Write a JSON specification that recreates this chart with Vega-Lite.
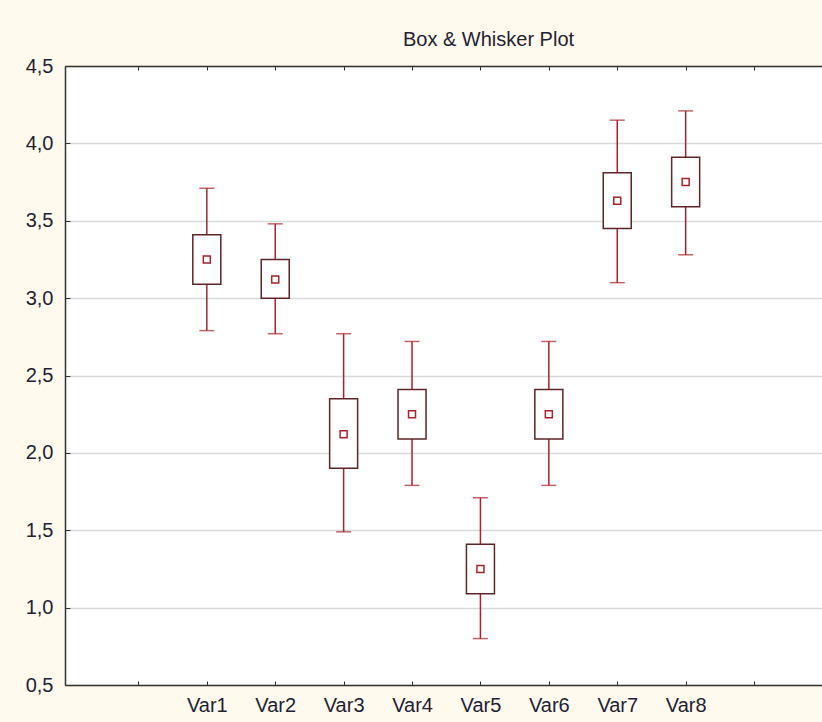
{
  "$schema": "https://vega.github.io/schema/vega-lite/v6.json",
  "width": 757,
  "height": 619,
  "autosize": {"type": "none"},
  "padding": {"left": 65, "top": 66, "right": 0, "bottom": 37},
  "background": "#FFF9EE",
  "title": {
    "text": "Box & Whisker Plot",
    "anchor": "middle",
    "frame": "group",
    "dx": 45,
    "offset": 6,
    "font": "Liberation Sans",
    "fontSize": 20,
    "fontWeight": "normal",
    "color": "#222233"
  },
  "config": {
    "view": {"fill": "white", "stroke": null},
    "axis": {
      "labelFont": "Liberation Sans",
      "labelFontSize": 20,
      "labelColor": "#222233",
      "domainColor": "#333333",
      "domainWidth": 1.5,
      "tickColor": "#333333",
      "tickWidth": 1,
      "title": null
    }
  },
  "data": {
    "values": [
      {"var": "Var1", "pos": 2, "low": 2.79, "q1": 3.09, "mean": 3.25, "q3": 3.41, "high": 3.71},
      {"var": "Var2", "pos": 3, "low": 2.77, "q1": 3.00, "mean": 3.12, "q3": 3.25, "high": 3.48},
      {"var": "Var3", "pos": 4, "low": 1.49, "q1": 1.90, "mean": 2.12, "q3": 2.35, "high": 2.77},
      {"var": "Var4", "pos": 5, "low": 1.79, "q1": 2.09, "mean": 2.25, "q3": 2.41, "high": 2.72},
      {"var": "Var5", "pos": 6, "low": 0.80, "q1": 1.09, "mean": 1.25, "q3": 1.41, "high": 1.71},
      {"var": "Var6", "pos": 7, "low": 1.79, "q1": 2.09, "mean": 2.25, "q3": 2.41, "high": 2.72},
      {"var": "Var7", "pos": 8, "low": 3.10, "q1": 3.45, "mean": 3.63, "q3": 3.81, "high": 4.15},
      {"var": "Var8", "pos": 9, "low": 3.28, "q1": 3.59, "mean": 3.75, "q3": 3.91, "high": 4.21}
    ]
  },
  "resolve": {"axis": {"x": "independent", "y": "independent"}},
  "layer": [
    {
      "mark": {"type": "rule", "color": "#A8232A", "strokeWidth": 1.5},
      "encoding": {
        "x": {
          "field": "pos", "type": "quantitative",
          "scale": {"domain": [0, 10.92], "nice": false, "zero": false},
          "axis": {
            "orient": "bottom",
            "values": [1, 2, 3, 4, 5, 6, 7, 8, 9, 10],
            "labelExpr": "datum.value >= 2 && datum.value <= 9 ? 'Var' + (datum.value - 1) : ''",
            "grid": false,
            "tickSize": -4,
            "labelPadding": 14
          }
        },
        "y": {
          "field": "low", "type": "quantitative",
          "scale": {"domain": [0.5, 4.5], "nice": false, "zero": false},
          "axis": {
            "orient": "left",
            "values": [0.5, 1, 1.5, 2, 2.5, 3, 3.5, 4, 4.5],
            "labelExpr": "replace(format(datum.value, '.1f'), '.', ',')",
            "grid": true,
            "gridColor": "#D9D9D9",
            "gridWidth": 1.5,
            "tickSize": -5,
            "labelPadding": 17
          }
        },
        "y2": {"field": "high"}
      }
    },
    {
      "mark": {"type": "tick", "orient": "horizontal", "color": "#A8232A", "thickness": 1.5, "size": 15},
      "encoding": {
        "x": {
          "field": "pos", "type": "quantitative",
          "axis": {
            "orient": "top",
            "values": [1, 2, 3, 4, 5, 6, 7, 8, 9, 10],
            "labels": false,
            "grid": false,
            "tickSize": -4
          }
        },
        "y": {"field": "high", "type": "quantitative", "axis": null}
      }
    },
    {
      "mark": {"type": "tick", "orient": "horizontal", "color": "#A8232A", "thickness": 1.5, "size": 15},
      "encoding": {
        "x": {"field": "pos", "type": "quantitative", "axis": null},
        "y": {"field": "low", "type": "quantitative", "axis": null}
      }
    },
    {
      "mark": {"type": "bar", "width": 28, "fill": "white", "stroke": "#5E2628", "strokeWidth": 1.5},
      "encoding": {
        "x": {"field": "pos", "type": "quantitative", "axis": null},
        "y": {"field": "q1", "type": "quantitative", "axis": null},
        "y2": {"field": "q3"}
      }
    },
    {
      "mark": {"type": "point", "shape": "square", "size": 49, "filled": false, "color": "#A8232A", "strokeWidth": 1.5, "opacity": 1},
      "encoding": {
        "x": {"field": "pos", "type": "quantitative", "axis": null},
        "y": {"field": "mean", "type": "quantitative", "axis": null}
      }
    }
  ]
}
